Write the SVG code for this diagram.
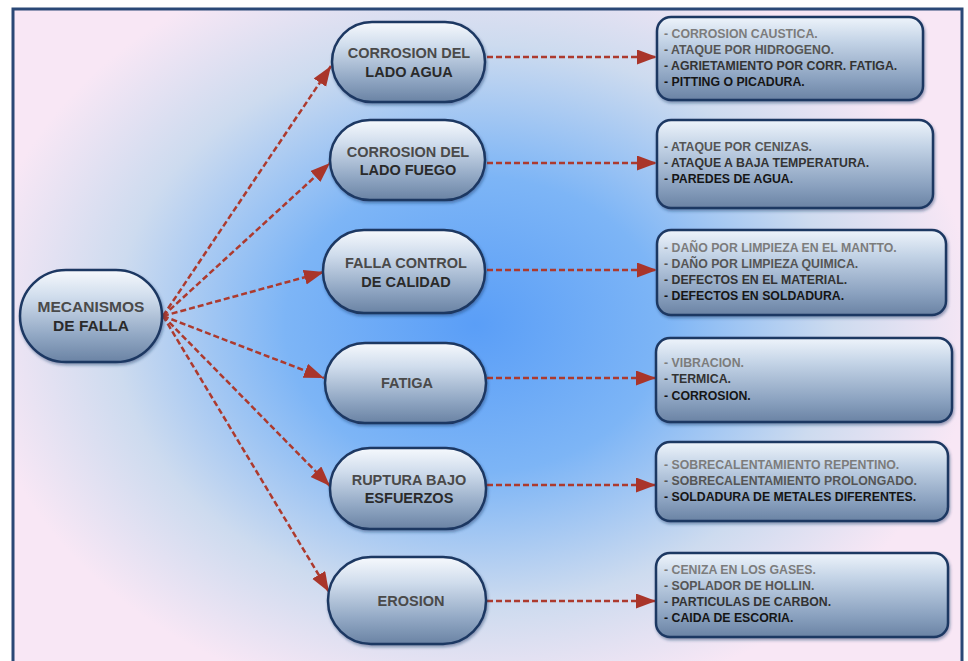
<svg xmlns="http://www.w3.org/2000/svg" width="968" height="661" viewBox="0 0 968 661">
<defs>
  <radialGradient id="bg" gradientUnits="userSpaceOnUse" cx="475" cy="325" r="500" gradientTransform="translate(475 325) scale(1 0.78) translate(-475 -325)">
    <stop offset="0" stop-color="#5a9ef7"/>
    <stop offset="0.38" stop-color="#7db5f6"/>
    <stop offset="0.72" stop-color="#cddbef"/>
    <stop offset="1" stop-color="#f8e7f5"/>
  </radialGradient>
  <linearGradient id="pill" x1="0" y1="0" x2="0" y2="1">
    <stop offset="0" stop-color="#f6f9fd"/>
    <stop offset="0.3" stop-color="#cfdcec"/>
    <stop offset="0.7" stop-color="#93a9c5"/>
    <stop offset="1" stop-color="#6a83a4"/>
  </linearGradient>
  <linearGradient id="box" x1="0" y1="0" x2="0" y2="1">
    <stop offset="0" stop-color="#eef4fb"/>
    <stop offset="0.3" stop-color="#c3d3e6"/>
    <stop offset="0.75" stop-color="#8aa1bf"/>
    <stop offset="1" stop-color="#6a83a4"/>
  </linearGradient>
  <filter id="sh" x="-10%" y="-10%" width="120%" height="130%">
    <feDropShadow dx="1" dy="2" stdDeviation="1.5" flood-color="#1b3560" flood-opacity="0.45"/>
  </filter>
  <marker id="ah" markerUnits="userSpaceOnUse" markerWidth="21" markerHeight="16" refX="20" refY="7.5" orient="auto">
    <path d="M0,0 L20,7.5 L0,15 z" fill="#a9352a"/>
  </marker>
  <style>
    .node rect { fill: url(#pill); stroke: #1d3762; stroke-width: 2.5; filter: url(#sh); }
    .list rect { fill: url(#box); stroke: #1d3762; stroke-width: 2.5; filter: url(#sh); }
    .lbl { font-family: "Liberation Sans", Arial, sans-serif; font-weight: bold; font-size: 14.5px; text-anchor: middle; }
    .t1 { fill: #4a4a4a; }
    .t2 { fill: #2a2a2a; }
    .li { font-family: "Liberation Sans", Arial, sans-serif; font-weight: bold; font-size: 12.3px; }
    .c1 { fill: #7c7c7c; }
    .c2 { fill: #555555; }
    .c3 { fill: #333333; }
    .c4 { fill: #151515; }
    .conn line { stroke: #ad3a2e; stroke-width: 2.5; stroke-dasharray: 6 3; marker-end: url(#ah); }
  </style>
</defs>

<rect x="0" y="0" width="968" height="661" fill="#ffffff"/>
<rect x="13" y="9" width="949" height="700" fill="url(#bg)" stroke="#2a4876" stroke-width="3"/>

<g id="connectors" class="conn">
  <line x1="163" y1="316" x2="331" y2="66"/>
  <line x1="163" y1="316" x2="330" y2="163"/>
  <line x1="163" y1="316" x2="324" y2="272"/>
  <line x1="163" y1="316" x2="324" y2="378"/>
  <line x1="163" y1="316" x2="330" y2="486"/>
  <line x1="163" y1="316" x2="329" y2="592"/>
  <line x1="487" y1="57" x2="657" y2="57"/>
  <line x1="487" y1="163" x2="657" y2="163"/>
  <line x1="487" y1="270" x2="657" y2="270"/>
  <line x1="487" y1="378" x2="656" y2="378"/>
  <line x1="487" y1="485" x2="656" y2="485"/>
  <line x1="487" y1="601" x2="656" y2="601"/>
</g>

<g id="mecanismos" class="node">
  <rect x="20" y="270" width="142" height="92" rx="46"/>
  <text class="lbl t1" x="91" y="312" style="font-size:15.5px">MECANISMOS</text>
  <text class="lbl t2" x="91" y="331" style="font-size:15.5px">DE FALLA</text>
</g>

<g id="n-agua" class="node">
  <rect x="332" y="22" width="153" height="80" rx="40"/>
  <text class="lbl t1" x="409" y="58">CORROSION DEL</text>
  <text class="lbl t2" x="409" y="77">LADO AGUA</text>
</g>
<g id="n-fuego" class="node">
  <rect x="330" y="120" width="155" height="80" rx="40"/>
  <text class="lbl t1" x="408" y="157">CORROSION DEL</text>
  <text class="lbl t2" x="408" y="175">LADO FUEGO</text>
</g>
<g id="n-calidad" class="node">
  <rect x="323" y="230" width="162" height="83" rx="41"/>
  <text class="lbl t1" x="406" y="268">FALLA CONTROL</text>
  <text class="lbl t2" x="406" y="287">DE CALIDAD</text>
</g>
<g id="n-fatiga" class="node">
  <rect x="325" y="343" width="161" height="80" rx="40"/>
  <text class="lbl t1" x="407" y="388">FATIGA</text>
</g>
<g id="n-ruptura" class="node">
  <rect x="330" y="448" width="156" height="81" rx="40"/>
  <text class="lbl t1" x="409" y="485">RUPTURA BAJO</text>
  <text class="lbl t2" x="409" y="503">ESFUERZOS</text>
</g>
<g id="n-erosion" class="node">
  <rect x="328" y="557" width="158" height="87" rx="43"/>
  <text class="lbl t1" x="411" y="606">EROSION</text>
</g>

<g id="l-agua" class="list">
  <rect x="657" y="17" width="266" height="83" rx="14"/>
  <text class="li c1" x="664" y="38">- CORROSION CAUSTICA.</text>
  <text class="li c2" x="664" y="54">- ATAQUE POR HIDROGENO.</text>
  <text class="li c3" x="664" y="70">- AGRIETAMIENTO POR CORR. FATIGA.</text>
  <text class="li c4" x="664" y="86">- PITTING O PICADURA.</text>
</g>
<g id="l-fuego" class="list">
  <rect x="657" y="120" width="276" height="88" rx="14"/>
  <text class="li c2" x="664" y="151">- ATAQUE POR CENIZAS.</text>
  <text class="li c3" x="664" y="167">- ATAQUE  A BAJA TEMPERATURA.</text>
  <text class="li c4" x="664" y="183">- PAREDES DE AGUA.</text>
</g>
<g id="l-calidad" class="list">
  <rect x="657" y="230" width="289" height="85" rx="14"/>
  <text class="li c1" x="664" y="252">- DAÑO POR LIMPIEZA EN EL MANTTO.</text>
  <text class="li c2" x="664" y="268">- DAÑO POR LIMPIEZA QUIMICA.</text>
  <text class="li c3" x="664" y="284">- DEFECTOS EN EL MATERIAL.</text>
  <text class="li c4" x="664" y="300">- DEFECTOS EN SOLDADURA.</text>
</g>
<g id="l-fatiga" class="list">
  <rect x="656" y="338" width="296" height="84" rx="14"/>
  <text class="li c1" x="664" y="367">- VIBRACION.</text>
  <text class="li c3" x="664" y="383">- TERMICA.</text>
  <text class="li c4" x="664" y="400">- CORROSION.</text>
</g>
<g id="l-ruptura" class="list">
  <rect x="656" y="442" width="292" height="79" rx="14"/>
  <text class="li c1" x="664" y="469">- SOBRECALENTAMIENTO REPENTINO.</text>
  <text class="li c2" x="664" y="485">- SOBRECALENTAMIENTO PROLONGADO.</text>
  <text class="li c4" x="664" y="501">- SOLDADURA DE METALES DIFERENTES.</text>
</g>
<g id="l-erosion" class="list">
  <rect x="656" y="553" width="292" height="84" rx="14"/>
  <text class="li c1" x="664" y="574">- CENIZA EN LOS GASES.</text>
  <text class="li c2" x="664" y="590">- SOPLADOR DE HOLLIN.</text>
  <text class="li c3" x="664" y="606">- PARTICULAS DE CARBON.</text>
  <text class="li c4" x="664" y="622">- CAIDA DE ESCORIA.</text>
</g>
</svg>
